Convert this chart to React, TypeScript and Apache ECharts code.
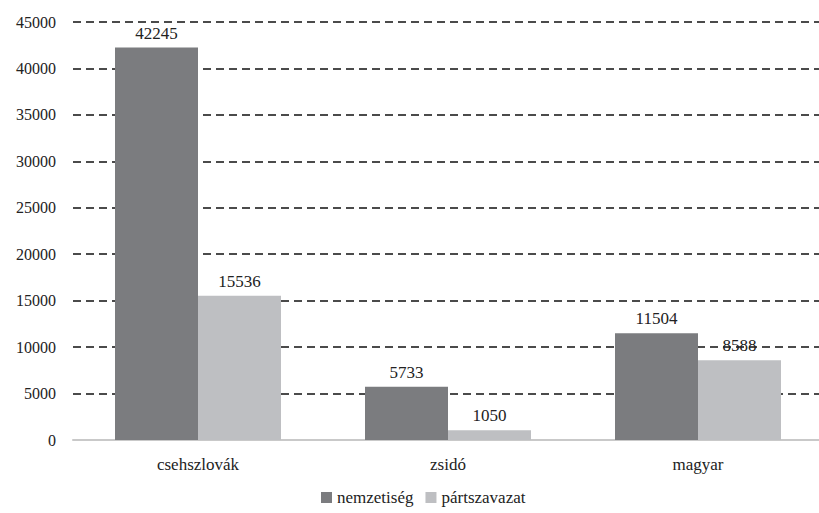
import React, { useEffect, useRef } from "react";
import * as echarts from "echarts";

const categories = ["csehszlovák", "zsidó", "magyar"];
const nemzetiseg = [42245, 5733, 11504];
const partszavazat = [15536, 1050, 8588];
const seriesNames = ["nemzetiség", "pártszavazat"];

const FONT = "Liberation Serif, serif";

export default function App() {
  const ref = useRef<HTMLDivElement>(null);

  useEffect(() => {
    document.body.style.margin = "0";
    const chart = echarts.init(ref.current!, undefined, { renderer: "svg" });
    const labelStyle = {
      show: true,
      position: "top" as const,
      distance: 6,
      color: "#222",
      fontFamily: FONT,
      fontSize: 17,
    };
    chart.setOption({
      animation: false,
      backgroundColor: "#fff",
      textStyle: { fontFamily: FONT },
      grid: {
        left: 73,
        width: 750,
        top: 22,
        bottom: 73,
        containLabel: false,
        outerBoundsMode: "none",
      },
      legend: {
        bottom: 2,
        left: 316,
        itemWidth: 11,
        itemHeight: 11,
        itemGap: 12,
        icon: "rect",
        textStyle: { fontFamily: FONT, fontSize: 17, color: "#222" },
        data: seriesNames,
      },
      xAxis: {
        type: "category",
        data: categories,
        axisLine: { show: true, lineStyle: { color: "#c9c9c9", width: 2 } },
        axisTick: { show: false },
        axisLabel: { color: "#222", fontFamily: FONT, fontSize: 17, margin: 16 },
      },
      yAxis: {
        type: "value",
        min: 0,
        max: 45000,
        interval: 5000,
        axisLine: { show: false },
        axisTick: { show: false },
        axisLabel: {
          color: "#222",
          fontFamily: FONT,
          fontSize: 16,
          margin: 17,
          formatter: (v: number) => String(v),
        },
        splitLine: {
          show: true,
          lineStyle: { color: "#111", width: 1.5, type: [8, 5] },
        },
      },
      series: [
        {
          name: seriesNames[0],
          type: "bar",
          data: nemzetiseg,
          barWidth: 83,
          barGap: "0%",
          itemStyle: { color: "#7b7c7f" },
          label: labelStyle,
          z: 3,
        },
        {
          name: seriesNames[1],
          type: "bar",
          data: partszavazat,
          barWidth: 83,
          barGap: "0%",
          itemStyle: { color: "#bebfc2" },
          label: labelStyle,
          z: 3,
        },
      ],
    });
    return () => chart.dispose();
  }, []);

  return <div ref={ref} style={{ width: 819, height: 513 }} />;
}
